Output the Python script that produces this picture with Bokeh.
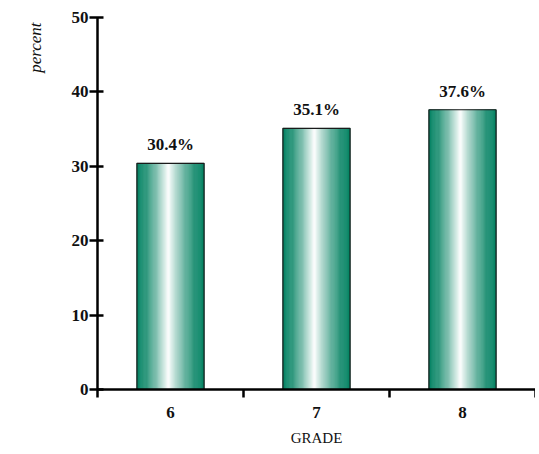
import math
from bokeh.plotting import figure
from bokeh.models import ColumnDataSource, FixedTicker, Range1d, Title
from bokeh.core.properties import value
from bokeh.embed import file_html
from bokeh.resources import INLINE

# ---- data ----
grades = ["6", "7", "8"]
percents = [30.4, 35.1, 37.6]
y_ticks = [0, 10, 20, 30, 40, 50]
x_title = "GRADE"
y_title = "percent"

FONT = "Liberation Serif"
BAR_W = 0.46
N_STRIPS = 60
TEAL = (6, 132, 100)
PEAK = 0.47

p = figure(width=535, height=454, output_backend="svg", toolbar_location=None,
           x_range=Range1d(0, len(grades)), y_range=Range1d(0, 50),
           min_border_left=96, min_border_right=0, min_border_top=17,
           min_border_bottom=65)
p.outline_line_color = None
p.xgrid.grid_line_color = None
p.ygrid.grid_line_color = None
p.background_fill_color = "white"
p.border_fill_color = "white"

# gradient strips (computed from data)
xs, tops, ws, cols = [], [], [], []
for i, v in enumerate(percents):
    c = i + 0.5
    for k in range(N_STRIPS):
        t = (k + 0.5) / N_STRIPS
        d = abs(t - PEAK) / (PEAK if t < PEAK else 1 - PEAK)
        m = (1 - d) ** 1.5
        r, g, b = [int(round(ch + (255 - ch) * m)) for ch in TEAL]
        xs.append(c - BAR_W / 2 + t * BAR_W)
        tops.append(v)
        ws.append(BAR_W / N_STRIPS)
        cols.append("#%02x%02x%02x" % (r, g, b))
strip_src = ColumnDataSource(dict(x=xs, top=tops, w=ws, c=cols))
p.vbar(x="x", top="top", bottom=0, width="w", fill_color="c", line_color="c",
       line_width=0.6, source=strip_src)

centers = [i + 0.5 for i in range(len(grades))]
bar_src = ColumnDataSource(dict(x=centers, top=percents,
                                lab=["%.1f%%" % v for v in percents]))
p.vbar(x="x", top="top", bottom=0, width=BAR_W, fill_alpha=0,
       line_color="#1a1a1a", line_width=1.2, source=bar_src)
p.text(x="x", y="top", text="lab", source=bar_src, text_align="center",
       text_baseline="bottom", y_offset=-9, text_font=value(FONT),
       text_font_style="bold", text_font_size="17px", text_color="#111111")

# x axis: labels at centers, ticks at boundaries
xa = p.xaxis[0]
xa.ticker = FixedTicker(ticks=centers, minor_ticks=list(range(len(grades) + 1)))
xa.major_label_overrides = {c: g for c, g in zip(centers, grades)}
xa.major_tick_line_color = None
xa.major_tick_out = 0
xa.major_tick_in = 0
xa.minor_tick_out = 8
xa.minor_tick_in = 0
xa.minor_tick_line_width = 2.5
xa.minor_tick_line_color = "black"
xa.axis_line_width = 2.5
xa.axis_line_color = "black"
xa.major_label_standoff = 9
xa.major_label_text_font = FONT
xa.major_label_text_font_style = "bold"
xa.major_label_text_font_size = "17px"
xa.major_label_text_color = "#111111"

ya = p.yaxis[0]
ya.ticker = FixedTicker(ticks=y_ticks, minor_ticks=[])
ya.major_tick_out = 8
ya.major_tick_in = 6
ya.major_tick_line_width = 2.5
ya.axis_line_width = 2.5
ya.axis_line_color = "black"
ya.major_label_standoff = 1
ya.major_label_text_font = FONT
ya.major_label_text_font_style = "bold"
ya.major_label_text_font_size = "17px"
ya.major_label_text_color = "#111111"

# titles
p.add_layout(Title(text=y_title, align="right", text_font=FONT,
                   text_font_style="italic", text_font_size="17px",
                   text_color="#111111", standoff=47, offset=5), "left")
p.add_layout(Title(text=x_title, align="center", text_font=FONT,
                   text_font_style="normal", text_font_size="15px",
                   text_color="#111111", standoff=15), "below")

open("out.html", "w").write(file_html(p, INLINE))
